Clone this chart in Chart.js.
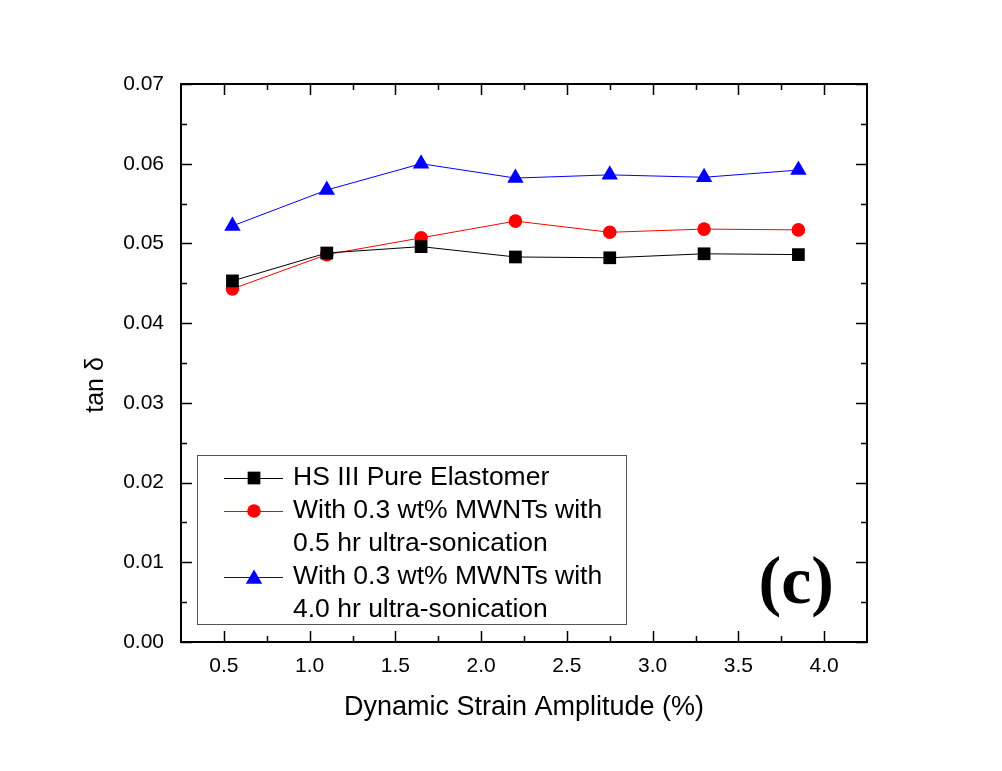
<!DOCTYPE html>
<html>
<head>
<meta charset="utf-8">
<script src="https://cdn.jsdelivr.net/npm/chart.js@4/dist/chart.umd.min.js"></script>
<style>
  html, body { margin: 0; padding: 0; background: #fff; }
  #wrap { width: 1002px; height: 771px; }
</style>
</head>
<body>
<div id="wrap"><canvas id="chart"></canvas></div>
<script>
// values
const strain = [0.55, 1.1, 1.65, 2.2, 2.75, 3.3, 3.85];
const pureElastomer = [0.0453, 0.0488, 0.0496, 0.0483, 0.0482, 0.0487, 0.0486];
const halfHourSonic = [0.0443, 0.0486, 0.0507, 0.0528, 0.0514, 0.0518, 0.0517];
const fourHourSonic = [0.0522, 0.0567, 0.0600, 0.0582, 0.0586, 0.0583, 0.0592];

const xTicks = [0.5, 1.0, 1.5, 2.0, 2.5, 3.0, 3.5, 4.0];
const xMinor = [0.75, 1.25, 1.75, 2.25, 2.75, 3.25, 3.75];
const yTicks = [0, 0.01, 0.02, 0.03, 0.04, 0.05, 0.06, 0.07];
const yMinor = [0.005, 0.015, 0.025, 0.035, 0.045, 0.055, 0.065];

const legendLabels = [
  ['HS III Pure Elastomer'],
  ['With 0.3 wt% MWNTs with', '0.5 hr ultra-sonication'],
  ['With 0.3 wt% MWNTs with', '4.0 hr ultra-sonication']
];

const FONT = '"Liberation Sans", Arial, sans-serif';

function toXY(xs, ys) {
  return xs.map((x, i) => ({ x: x, y: ys[i] }));
}

function makeSet(label, data, color, style, radius) {
  return {
    label: label,
    data: toXY(strain, data),
    borderColor: color,
    backgroundColor: color,
    borderWidth: 1,
    pointStyle: style,
    pointRadius: radius,
    pointHoverRadius: radius,
    pointBorderWidth: 0,
    tension: 0,
    fill: false
  };
}

const datasets = [
  makeSet(legendLabels[0].join(' '), pureElastomer, '#000000', 'rect', 9),
  makeSet(legendLabels[1].join(' '), halfHourSonic, '#ff0000', 'circle', 6.8),
  makeSet(legendLabels[2].join(' '), fourHourSonic, '#0000ff', 'triangle', 9.5)
];

// frame, inward ticks, legend box, y title and panel letter
const decorPlugin = {
  id: 'decor',
  afterDraw(chart) {
    const ctx = chart.ctx;
    const a = chart.chartArea;
    const xs = chart.scales.x, ys = chart.scales.y;
    ctx.save();
    ctx.strokeStyle = '#000';
    ctx.lineWidth = 2;
    ctx.strokeRect(a.left, a.top, a.right - a.left, a.bottom - a.top);

    ctx.lineWidth = 1.5;
    ctx.beginPath();
    function xTick(v, len) {
      const px = Math.round(xs.getPixelForValue(v)) + 0.5;
      ctx.moveTo(px, a.bottom); ctx.lineTo(px, a.bottom - len);
      ctx.moveTo(px, a.top); ctx.lineTo(px, a.top + len);
    }
    function yTick(v, len) {
      const py = Math.round(ys.getPixelForValue(v)) + 0.5;
      ctx.moveTo(a.left, py); ctx.lineTo(a.left + len, py);
      ctx.moveTo(a.right, py); ctx.lineTo(a.right - len, py);
    }
    xTicks.forEach(v => xTick(v, 11));
    xMinor.forEach(v => xTick(v, 6));
    yTicks.forEach(v => yTick(v, 11));
    yMinor.forEach(v => yTick(v, 6));
    ctx.stroke();

    // y title
    ctx.fillStyle = '#000';
    ctx.font = '25px ' + FONT;
    ctx.textAlign = 'center';
    ctx.textBaseline = 'middle';
    ctx.translate(96, 385);
    ctx.rotate(-Math.PI / 2);
    ctx.fillText('tan \u03b4', 0, 0);
    ctx.setTransform(1, 0, 0, 1, 0, 0);

    // legend
    const bx = a.left + 16, by = a.bottom - 187, bw = 429, bh = 169;
    ctx.strokeStyle = '#555';
    ctx.lineWidth = 1;
    ctx.strokeRect(bx + 0.5, by + 0.5, bw, bh);
    ctx.font = '26.5px ' + FONT;
    ctx.textAlign = 'left';
    ctx.textBaseline = 'middle';
    let row = by + 23;
    datasets.forEach((ds, i) => {
      ctx.strokeStyle = ds.borderColor;
      ctx.lineWidth = 1;
      ctx.beginPath();
      ctx.moveTo(bx + 27, row + 0.5);
      ctx.lineTo(bx + 86, row + 0.5);
      ctx.stroke();
      ctx.fillStyle = ds.backgroundColor;
      Chart.helpers.drawPoint(ctx, {
        pointStyle: ds.pointStyle, radius: ds.pointRadius, borderWidth: 0, rotation: 0
      }, bx + 57, row + (ds.pointStyle === 'triangle' ? 2 : 0));
      ctx.fillStyle = '#000';
      legendLabels[i].forEach(line => {
        ctx.fillText(line, bx + 96, row);
        row += 33;
      });
    });

    // panel letter
    ctx.font = 'bold 68px "Liberation Serif", "Times New Roman", serif';
    ctx.textAlign = 'right';
    ctx.textBaseline = 'alphabetic';
    ctx.fillText('(c)', a.right - 33, a.bottom - 39);
    ctx.restore();
  }
};

new Chart(document.getElementById('chart'), {
  type: 'line',
  data: { datasets: datasets },
  options: {
    animation: false,
    responsive: true,
    maintainAspectRatio: false,
    layout: { padding: { left: 0, top: 84, right: 135, bottom: 43 } },
    plugins: { legend: { display: false }, tooltip: { enabled: false } },
    scales: {
      x: {
        type: 'linear',
        min: 0.25,
        max: 4.25,
        grid: { display: false, drawTicks: false },
        border: { display: false },
        afterBuildTicks: s => { s.ticks = xTicks.map(v => ({ value: v })); },
        afterFit: s => { s.height = 86; },
        ticks: {
          color: '#000',
          font: { family: FONT, size: 21 },
          padding: 12,
          maxRotation: 0,
          autoSkip: false,
          callback: v => Number(v).toFixed(1)
        },
        title: {
          display: true,
          text: 'Dynamic Strain Amplitude (%)',
          color: '#000',
          font: { family: FONT, size: 27 }
        }
      },
      y: {
        type: 'linear',
        min: 0,
        max: 0.07,
        grid: { display: false, drawTicks: false },
        border: { display: false },
        afterBuildTicks: s => { s.ticks = yTicks.map(v => ({ value: v })); },
        afterFit: s => { s.width = 181; },
        ticks: {
          color: '#000',
          font: { family: FONT, size: 21 },
          padding: 17,
          callback: v => Number(v).toFixed(2)
        }
      }
    }
  },
  plugins: [decorPlugin]
});
</script>
</body>
</html>
